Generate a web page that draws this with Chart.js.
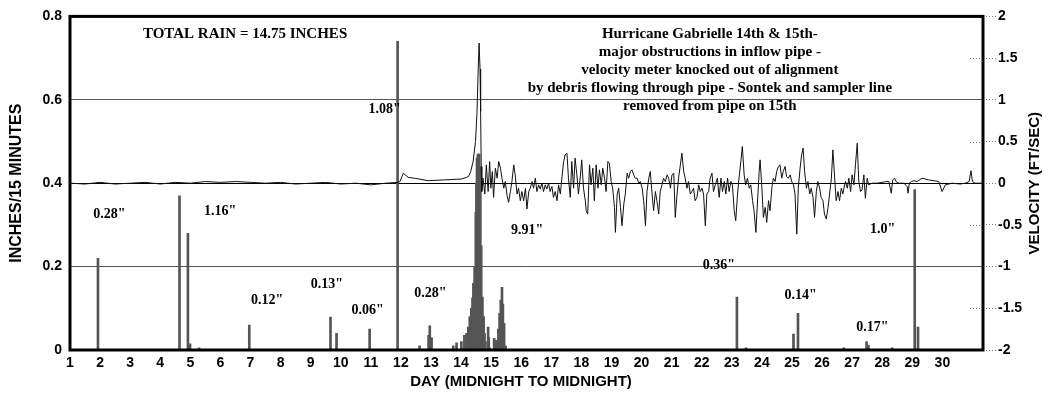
<!DOCTYPE html>
<html><head><meta charset="utf-8">
<script src="https://cdn.jsdelivr.net/npm/chart.js@4/dist/chart.umd.min.js"></script>
<style>html,body{margin:0;padding:0;background:#fff}canvas{display:block}</style>
</head><body>
<canvas id="c" width="1052" height="397"></canvas>
<script>
// ---------- DATA ----------
const dayTicks = [1,2,3,4,5,6,7,8,9,10,11,12,13,14,15,16,17,18,19,20,21,22,23,24,25,26,27,28,29,30];

// rainfall (inches / 15 minutes), left axis
const rainDay = [1.93,4.64,4.92,4.99,5.29,6.96,9.66,9.86,10.96,11.89,12.62,12.92,12.96,13.02,13.74,13.85,14.01,14.11,14.18,14.24,
  14.29,14.34,14.38,14.41,14.45,14.49,14.51,14.53,14.56,14.60,14.62,14.64,14.67,14.71,14.75,14.78,14.81,14.90,14.92,14.95,
  15.10,15.17,15.24,15.28,15.32,15.36,15.39,15.43,15.48,23.17,23.47,25.05,25.20,26.72,27.48,27.54,28.33,29.08,29.19];
const rainIn = [0.22,0.37,0.28,0.015,0.005,0.06,0.079,0.04,0.05,0.74,0.01,0.035,0.058,0.03,0.01,0.017,0.02,0.035,0.04,0.055,
  0.08,0.10,0.125,0.16,0.20,0.33,0.40,0.46,0.47,0.47,0.44,0.41,0.25,0.127,0.08,0.04,0.02,0.055,0.03,0.005,
  0.028,0.023,0.05,0.088,0.12,0.15,0.11,0.064,0.01,0.127,0.005,0.038,0.088,0.005,0.02,0.012,0.005,0.385,0.055];

// velocity (ft/sec), right axis
const velDay = [
  1.00,1.50,2.00,2.50,3.00,3.50,4.00,4.50,5.00,5.50,6.00,6.50,7.00,7.50,8.00,8.50,9.00,9.50,10.00,10.50,11.00,11.50,11.90,
  11.97,12.08,12.24,12.45,12.91,13.45,14.01,14.18,14.25,14.32,14.40,14.48,14.53,14.57,14.60,14.63,14.65,14.67,14.69,
  14.73,14.79,14.84,14.90,14.95,14.99,15.04,15.08,15.14,15.20,15.25,15.31,15.36,15.42,15.47,15.53,15.58,15.64,15.69,15.75,
  15.80,15.86,15.91,15.97,16.02,16.08,16.14,16.19,16.25,16.30,16.36,16.41,16.47,16.52,16.58,16.63,16.69,16.74,16.80,16.85,
  16.91,16.96,17.02,17.07,17.13,17.19,17.24,17.30,17.35,17.41,17.46,17.52,17.57,17.63,17.68,17.74,17.79,17.85,17.90,17.96,
  18.01,18.07,18.13,
  18.16,18.21,18.27,18.32,18.38,18.43,18.49,18.55,18.60,18.66,18.71,18.77,18.82,18.88,18.93,18.99,19.04,19.10,19.13,
  19.19,19.24,19.30,19.35,19.41,19.46,19.52,19.57,19.63,19.68,19.74,19.79,19.85,19.91,19.96,20.02,20.07,20.13,20.18,
  20.24,20.29,20.35,20.40,20.46,20.51,20.57,20.62,20.68,20.73,20.79,20.85,20.90,20.96,21.01,21.07,21.12,21.18,21.23,
  21.29,21.34,21.40,21.45,21.51,21.56,21.62,21.67,21.73,21.78,21.84,21.90,21.95,22.01,22.06,22.12,22.17,22.23,22.28,
  22.34,22.39,22.45,
  22.47,22.52,22.58,22.64,22.69,22.75,22.80,22.86,22.91,22.97,23.02,23.08,23.13,23.19,23.24,23.30,23.35,23.41,23.46,
  23.52,23.58,23.63,23.69,23.74,23.80,23.85,23.91,23.94,24.00,24.05,24.11,24.16,24.22,24.27,24.33,24.38,24.44,24.49,
  24.55,24.60,24.66,24.71,24.77,24.82,24.88,24.94,24.99,25.05,25.10,25.16,25.21,25.27,25.32,25.37,25.42,25.48,25.53,
  25.59,25.64,25.70,25.75,25.81,25.86,25.92,25.97,26.03,26.08,26.14,26.20,26.25,26.31,26.36,26.42,26.47,26.53,26.58,
  26.64,26.69,26.75,
  26.78,26.84,26.89,26.95,27.00,27.06,27.11,27.17,27.22,27.28,27.33,27.39,27.44,27.50,27.55,27.66,27.83,28.00,28.11,28.22,
  28.30,28.35,28.41,28.46,28.55,28.72,28.83,28.86,28.90,28.97,29.05,29.16,29.32,29.54,29.88,29.99,30.10,30.32,30.59,30.76,
  30.89,30.95,31.00,31.09,31.31];
const velFt = [
  0,-0.01,0.01,-0.01,0,0.01,-0.01,0.01,0,0.02,0.01,0.02,0.01,0,0.01,-0.01,0,0.01,-0.01,0,-0.02,0,0.01,
  0.02,0.12,0.07,0.06,0.03,0.04,0.05,0.07,0.08,0.14,0.26,0.50,0.85,1.37,1.68,1.37,0.86,0.20,-0.10,
  0.06,-0.13,0.22,-0.10,0.26,-0.06,0.14,-0.17,0.18,0.06,0.26,0.18,0.06,-0.06,0.02,-0.15,-0.23,-0.10,0.02,0.22,
  0.10,-0.13,-0.06,-0.21,-0.10,-0.21,-0.06,-0.31,-0.10,-0.06,0.02,-0.06,0.06,-0.10,-0.02,-0.07,0.00,-0.10,-0.02,-0.07,
  0.00,-0.10,-0.04,-0.17,-0.10,-0.21,-0.02,-0.13,0.06,0.26,0.34,0.36,0.06,-0.17,0.26,-0.06,0.30,0.10,-0.13,0.06,
  0.28,-0.06,-0.21,
  -0.33,-0.37,0.22,-0.02,0.18,-0.21,0.22,-0.06,0.16,-0.02,0.18,0.06,-0.10,0.26,0.24,0.02,-0.06,-0.29,-0.59,
  -0.13,-0.06,-0.29,-0.51,-0.25,-0.13,0.12,0.06,0.14,0.16,0.10,0.06,0.06,0.00,0.02,-0.06,-0.21,-0.51,-0.10,
  0.06,0.14,-0.13,-0.33,-0.10,-0.21,-0.37,-0.10,-0.02,0.06,0.02,0.10,0.06,-0.06,0.10,0.12,-0.41,-0.13,0.06,
  0.22,0.36,0.14,0.06,-0.06,0.02,-0.13,-0.10,-0.06,-0.21,-0.17,-0.02,-0.10,-0.06,-0.13,-0.51,-0.13,-0.10,0.06,
  0.12,-0.10,-0.02,
  -0.02,0.06,-0.17,0.06,-0.10,0.02,-0.13,0.06,-0.10,0.02,-0.02,-0.33,-0.45,-0.13,0.06,0.26,0.44,0.10,-0.02,
  0.06,-0.06,-0.02,-0.21,-0.33,-0.59,-0.25,0.14,0.28,-0.06,-0.41,-0.29,-0.47,-0.21,-0.33,-0.06,0.06,0.02,0.14,
  0.20,0.22,0.06,0.14,0.20,0.08,0.06,0.10,0.02,-0.02,-0.13,-0.61,-0.06,0.18,0.34,0.42,0.14,-0.06,0.02,
  -0.13,-0.06,-0.17,-0.41,-0.10,0.02,-0.06,-0.17,-0.21,-0.37,-0.43,-0.29,-0.13,0.06,0.40,0.06,-0.21,-0.10,-0.21,
  -0.06,-0.13,-0.02,
  0.02,-0.06,0.06,-0.10,0.10,-0.02,0.22,0.48,0.02,-0.10,-0.08,0.10,-0.18,0.06,-0.02,0.00,0.00,0.01,0.02,0.02,
  -0.12,0.04,0.06,0.02,0.00,0.00,-0.04,-0.12,0.00,0.02,0.03,0.02,0.06,0.04,0.02,-0.10,-0.02,0.00,-0.01,0.00,
  0.02,0.15,0.02,0.00,0.00];

// annotations (text anchored in data coordinates: day, inches)
const noteText = ['0.28"','1.16"','0.12"','0.13"','0.06"','1.08"','0.28"','9.91"','0.36"','0.14"','0.17"','1.0"'];
const noteDay  = [2.31, 5.99, 7.55, 9.54, 10.89, 11.46, 12.98, 16.20, 22.57, 25.29, 27.67, 28.01];
const noteIn   = [0.326, 0.333, 0.119, 0.157, 0.095, 0.576, 0.136, 0.286, 0.202, 0.131, 0.055, 0.290];
const totalText = 'TOTAL RAIN = 14.75 INCHES';
const totalDay = 6.82, totalIn = 0.757;
const stormText = ['Hurricane Gabrielle 14th & 15th-','major obstructions in inflow pipe -','velocity meter knocked out of alignment',
  'by debris flowing through pipe - Sontek and sampler line','removed from pipe on 15th'];
const stormDay = 22.27;
const stormIn  = [0.757, 0.714, 0.671, 0.629, 0.586];

const titleLeft = 'INCHES/15 MINUTES';
const titleRight = 'VELOCITY (FT/SEC)';
const titleX = 'DAY (MIDNIGHT TO MIDNIGHT)';

// ---------- CHART ----------
const SANS = '"Liberation Sans", Arial, sans-serif';
const SERIF = '"Liberation Serif", "Times New Roman", serif';

const n1 = Math.min(rainDay.length, rainIn.length);
const rainData = rainDay.slice(0, n1).map((d, i) => ({x: d, y: rainIn[i]}));
const n2 = Math.min(velDay.length, velFt.length);
const velData = velDay.slice(0, n2).map((d, i) => ({x: d, y: velFt[i]}));

const overlay = {
  id: 'overlay',
  afterDraw(chart) {
    const c = chart.ctx, a = chart.chartArea;
    const sx = chart.scales.x, sy = chart.scales.y, sr = chart.scales.y1;
    c.save();
    // inner dotted tick marks on the right axis
    c.strokeStyle = '#777'; c.lineWidth = 1; c.setLineDash([1, 2]);
    [1.5, 0.5, -0.5, -1.5].forEach(v => {
      const yy = Math.round(sr.getPixelForValue(v)) + 0.5;
      c.beginPath(); c.moveTo(a.right - 13, yy); c.lineTo(a.right, yy); c.stroke();
    });
    c.setLineDash([]);
    // frame
    c.strokeStyle = '#000'; c.lineWidth = 3;
    c.strokeRect(a.left, a.top, a.right - a.left, a.bottom - a.top);
    // annotations
    c.fillStyle = '#000'; c.textAlign = 'center'; c.textBaseline = 'middle';
    c.font = 'bold 14px ' + SERIF;
    noteText.forEach((t, i) => c.fillText(t, sx.getPixelForValue(noteDay[i]), sy.getPixelForValue(noteIn[i])));
    c.font = 'bold 15px ' + SERIF;
    c.fillText(totalText, sx.getPixelForValue(totalDay), sy.getPixelForValue(totalIn));
    stormText.forEach((t, i) => c.fillText(t, sx.getPixelForValue(stormDay), sy.getPixelForValue(stormIn[i])));
    // axis titles
    c.font = 'bold 15px ' + SANS;
    c.fillText(titleX, 521, 382);
    c.save(); c.translate(17, (a.top + a.bottom) / 2); c.rotate(-Math.PI / 2);
    c.font = 'bold 16px ' + SANS; c.fillText(titleLeft, 0, 0); c.restore();
    c.save(); c.translate(1035, (a.top + a.bottom) / 2); c.rotate(-Math.PI / 2);
    c.font = 'bold 15px ' + SANS; c.fillText(titleRight, 0, 0); c.restore();
    c.restore();
  }
};

const tickFont = {family: SANS, size: 14, weight: 'bold'};
const fmt = v => String(Number(v.toFixed(2)));

new Chart(document.getElementById('c'), {
  type: 'line',
  data: {
    datasets: [
      {type: 'line', data: velData, yAxisID: 'y1', borderColor: '#111', borderWidth: 1,
       pointRadius: 0, tension: 0, fill: false, order: 0},
      {type: 'bar', data: rainData, yAxisID: 'y', backgroundColor: '#555', borderWidth: 0,
       barThickness: 2, order: 1}
    ]
  },
  options: {
    responsive: false, animation: false, devicePixelRatio: 1,
    layout: {padding: {top: 14, left: 0, right: 0, bottom: 0}},
    plugins: {legend: {display: false}, tooltip: {enabled: false}},
    scales: {
      x: {
        type: 'linear', min: 1, max: 31.35, offset: false,
        grid: {display: false, drawTicks: false}, border: {display: false},
        afterBuildTicks(s) { s.ticks = dayTicks.map(v => ({value: v})); },
        afterFit(s) { s.height = 47; },
        ticks: {font: tickFont, color: '#000', padding: 5, maxRotation: 0, autoSkip: false}
      },
      y: {
        position: 'left', min: 0, max: 0.8,
        ticks: {stepSize: 0.2, font: tickFont, color: '#000', padding: 8, callback: fmt},
        grid: {drawTicks: false, lineWidth: 1,
          color: ctx => {
            const v = ctx.tick ? ctx.tick.value : 0;
            if (Math.abs(v) < 1e-6 || Math.abs(v - 0.8) < 1e-6) return 'rgba(0,0,0,0)';
            if (Math.abs(v - 0.4) < 1e-6) return '#000';
            return '#555';
          }},
        border: {display: false},
        afterFit(s) { s.width = 70; }
      },
      y1: {
        position: 'right', min: -2, max: 2,
        ticks: {stepSize: 0.5, font: tickFont, color: '#000', padding: 2, callback: fmt},
        grid: {drawOnChartArea: false, drawTicks: true, tickLength: 13, tickColor: '#777', tickBorderDash: [1, 2]},
        border: {display: false},
        afterFit(s) { s.width = 69; }
      }
    }
  },
  plugins: [overlay]
});
</script>
</body></html>
